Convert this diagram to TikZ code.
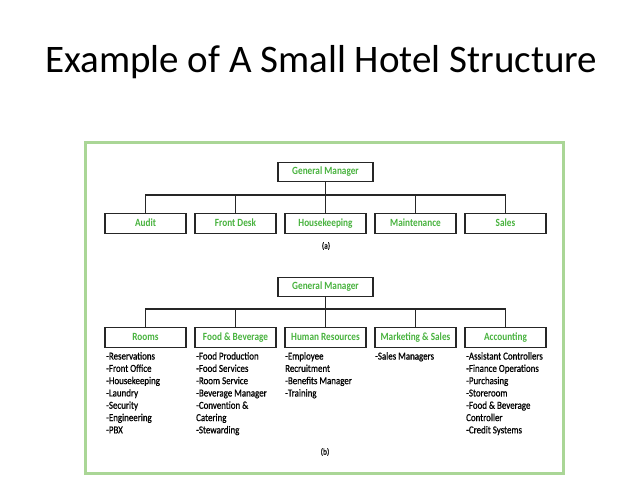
\documentclass[tikz,border=0pt]{standalone}
\usepackage{fontspec}
\setmainfont{Carlito}
\newfontfamily\condfont[FakeStretch=0.84]{Carlito}
\newfontfamily\listfont[FakeStretch=0.84, FakeBold=0.7]{Carlito}
\usepackage{tikz}
\definecolor{framegreen}{RGB}{170,214,150}
\definecolor{labelgreen}{RGB}{72,178,62}
\tikzset{
  unitbox/.style={draw=black!85, line width=1.2pt, minimum width=81pt, minimum height=20pt, inner sep=0pt, text height=8pt, text depth=2.2pt, font=\condfont\bfseries\fontsize{11}{12}\selectfont, text=labelgreen},
  dutylist/.style={anchor=north west, inner sep=0pt, align=left, font=\listfont\fontsize{10.6}{12.3}\selectfont},
  tie/.style={line width=1.2pt, draw=black!85}
}

\begin{document}
\begin{tikzpicture}[x=1pt, y=-1pt]
		%%%%% START %%%%%
		\useasboundingbox (0, 0) rectangle (638, 479);
		
		\node[anchor=base west, inner sep=0pt, font=\fontsize{39}{44}\selectfont] (title) at (45, 72) {Example of A Small Hotel Structure};
		
		\draw[draw=framegreen, line width=3pt] (85.5, 142.5) rectangle (563.5, 473.5);
		
		%% chart (a)
		\node[unitbox, minimum width=95pt, minimum height=19pt] (gmA) at (325.5, 172) {General Manager};
		\coordinate (busA) at (325.5, 195);
		
		\node[unitbox] (audit) at (145.5, 223.5) {Audit};
		\node[unitbox] (frontdesk) at (235.5, 223.5) {Front Desk};
		\node[unitbox] (housekeeping) at (325.5, 223.5) {Housekeeping};
		\node[unitbox] (maintenance) at (415.5, 223.5) {Maintenance};
		\node[unitbox] (sales) at (505.5, 223.5) {Sales};
		
		\draw[tie] (gmA.south) -- (busA);
		\draw[tie] (audit.north) |- (busA);
		\draw[tie] (frontdesk.north) |- (busA);
		\draw[tie] (housekeeping.north) -- (busA);
		\draw[tie] (maintenance.north) |- (busA);
		\draw[tie] (sales.north) |- (busA);
		
		\node[font=\listfont\fontsize{9}{10}\selectfont] (capA) at (326, 246) {(a)};
		
		%% chart (b)
		\node[unitbox, minimum width=95pt, minimum height=19pt] (gmB) at (325.5, 287) {General Manager};
		\coordinate (busB) at (325.5, 309);
		
		\node[unitbox] (rooms) at (145.5, 337.5) {Rooms};
		\node[unitbox] (foodbev) at (235.5, 337.5) {Food \& Beverage};
		\node[unitbox] (humanres) at (325.5, 337.5) {Human Resources};
		\node[unitbox] (marketing) at (415.5, 337.5) {Marketing \& Sales};
		\node[unitbox] (accounting) at (505.5, 337.5) {Accounting};
		
		\draw[tie] (gmB.south) -- (busB);
		\draw[tie] (rooms.north) |- (busB);
		\draw[tie] (foodbev.north) |- (busB);
		\draw[tie] (humanres.north) -- (busB);
		\draw[tie] (marketing.north) |- (busB);
		\draw[tie] (accounting.north) |- (busB);
		
		\node[dutylist] (roomslist) at (106, 352) {-Reservations\\-Front Office\\-Housekeeping\\-Laundry\\-Security\\-Engineering\\-PBX};
		\node[dutylist] (foodbevlist) at (196, 352) {-Food Production\\-Food Services\\-Room Service\\-Beverage Manager\\-Convention \&\\Catering\\-Stewarding};
		\node[dutylist] (humanreslist) at (285, 352) {-Employee\\Recruitment\\-Benefits Manager\\-Training};
		\node[dutylist] (marketinglist) at (375, 352) {-Sales Managers};
		\node[dutylist] (accountinglist) at (466, 352) {-Assistant Controllers\\-Finance Operations\\-Purchasing\\-Storeroom\\-Food \& Beverage\\Controller\\-Credit Systems};
		
		\node[font=\listfont\fontsize{9}{10}\selectfont] (capB) at (325, 452) {(b)};
		%%%%% END %%%%%
	\end{tikzpicture}
\end{document}
